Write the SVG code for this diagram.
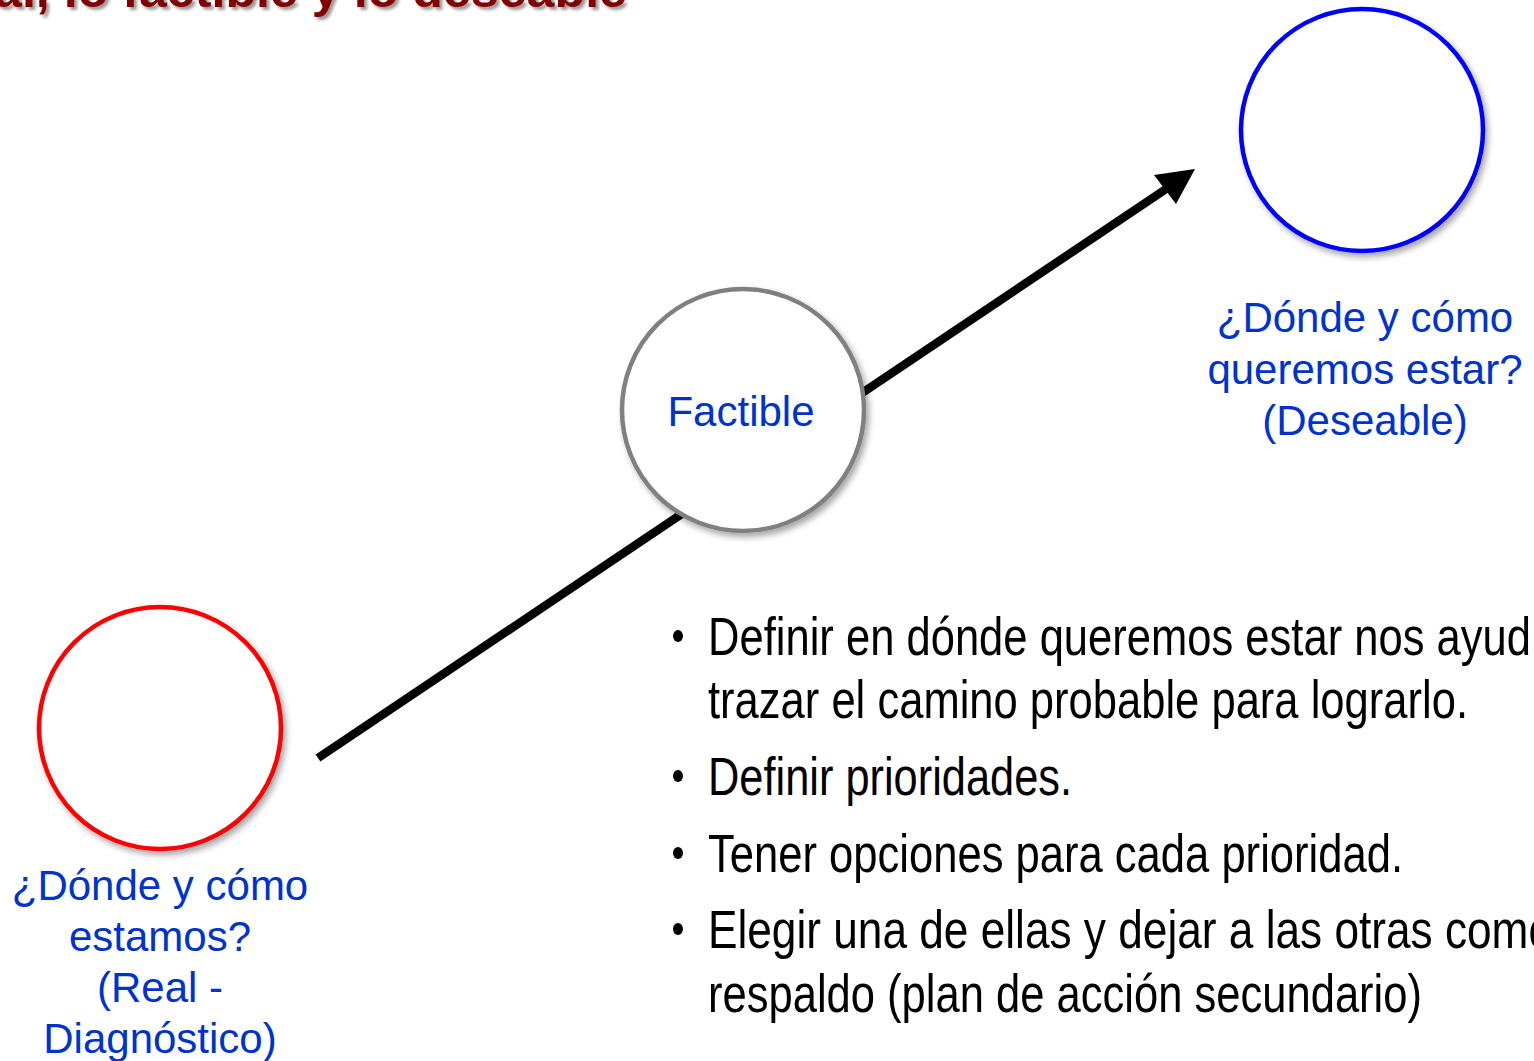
<svg xmlns="http://www.w3.org/2000/svg" width="1534" height="1061" viewBox="0 0 1534 1061">
  <defs>
    <filter id="shadow" x="-20%" y="-20%" width="140%" height="140%">
      <feDropShadow dx="3" dy="4" stdDeviation="3" flood-color="#000" flood-opacity="0.35"/>
    </filter>
    <filter id="tshadow" x="-5%" y="-50%" width="110%" height="200%">
      <feDropShadow dx="3" dy="3" stdDeviation="1.5" flood-color="#000" flood-opacity="0.4"/>
    </filter>
  </defs>
  <style>
    .node { fill: #ffffff; stroke-width: 4.5; filter: url(#shadow); }
    .label { font-family: "Liberation Sans", Arial, sans-serif; font-size: 42px; fill: #0033cc; text-anchor: middle; }
    .bullet { font-family: "Liberation Sans Narrow", "Liberation Sans", Arial, sans-serif; font-size: 53px; fill: #000000; }
    .title { font-family: "Liberation Sans", Arial, sans-serif; font-weight: bold; font-size: 48px; fill: #800000; filter: url(#tshadow); }
  </style>
  <rect width="1534" height="1061" fill="#ffffff"/>

  <text class="title" x="-6" y="7" textLength="633" lengthAdjust="spacingAndGlyphs">al, lo factible y lo deseable</text>

  <g id="connectors">
    <line x1="318" y1="758" x2="1172" y2="185" stroke="#000" stroke-width="8.5"/>
    <polygon points="1195,169 1154,175 1176,204" fill="#000"/>
  </g>

  <g id="node-real">
    <circle class="node" cx="160" cy="728" r="121" stroke="#ff0000"/>
    <text class="label" x="160" y="900">¿Dónde y cómo</text>
    <text class="label" x="160" y="951">estamos?</text>
    <text class="label" x="160" y="1002">(Real -</text>
    <text class="label" x="160" y="1053">Diagnóstico)</text>
  </g>

  <g id="node-factible">
    <circle class="node" cx="743" cy="410" r="121" stroke="#808080"/>
    <text class="label" x="741" y="426">Factible</text>
  </g>

  <g id="node-deseable">
    <circle class="node" cx="1362" cy="130" r="121" stroke="#0000ff"/>
    <text class="label" x="1365" y="332">¿Dónde y cómo</text>
    <text class="label" x="1365" y="384">queremos estar?</text>
    <text class="label" x="1365" y="435">(Deseable)</text>
  </g>

  <g id="bullets">
    <ellipse cx="678" cy="636" rx="5" ry="6" fill="#000"/>
    <text class="bullet" x="708" y="655" textLength="823" lengthAdjust="spacingAndGlyphs">Definir en dónde queremos estar nos ayud</text>
    <text class="bullet" x="708" y="718" textLength="760" lengthAdjust="spacingAndGlyphs">trazar el camino probable para lograrlo.</text>
    <ellipse cx="678" cy="776" rx="5" ry="6" fill="#000"/>
    <text class="bullet" x="708" y="795" textLength="364" lengthAdjust="spacingAndGlyphs">Definir prioridades.</text>
    <ellipse cx="678" cy="853" rx="5" ry="6" fill="#000"/>
    <text class="bullet" x="708" y="872" textLength="695" lengthAdjust="spacingAndGlyphs">Tener opciones para cada prioridad.</text>
    <ellipse cx="678" cy="929" rx="5" ry="6" fill="#000"/>
    <text class="bullet" x="708" y="948" textLength="845" lengthAdjust="spacingAndGlyphs">Elegir una de ellas y dejar a las otras como</text>
    <text class="bullet" x="708" y="1012" textLength="714" lengthAdjust="spacingAndGlyphs">respaldo (plan de acción secundario)</text>
  </g>
</svg>
